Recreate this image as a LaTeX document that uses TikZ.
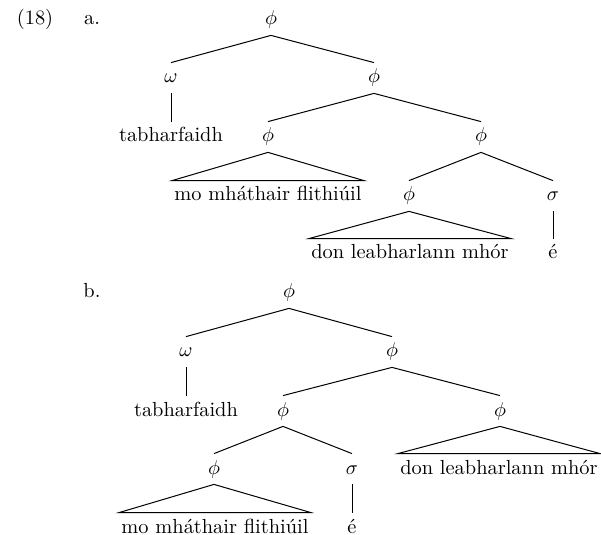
\documentclass[tikz,border=0pt]{standalone}
\begin{document}
\begin{tikzpicture}[x=0.5pt,y=-0.5pt,
  lab/.style={inner sep=0pt, minimum height=15pt, text height=7pt, text depth=2pt, font=\fontsize{10.2}{12}\selectfont},
  cat/.style={lab},
  word/.style={lab, inner xsep=1pt},
  edge/.style={line width=0.5pt}]
\useasboundingbox (0,0) rectangle (601,535);
% labels
\node[lab] (n18) at (35,20) {(18)};
\node[lab] (la) at (92,20) {a.};
\node[lab] (lb) at (92,293) {b.};
% tree a
\node[cat] (rA) at (271,20) {$\phi$};
\node[cat] (wA) at (171,78) {$\omega$};
\node[word] (tA) at (171,137) {tabharfaidh};
\node[cat] (pA) at (374,78) {$\phi$};
\node[cat] (pA1) at (268,137) {$\phi$};
\node[word] (mA) at (268,196) {mo mháthair flithiúil};
\node[cat] (pA2) at (481,137) {$\phi$};
\node[cat] (pA3) at (409,196) {$\phi$};
\node[word] (dA) at (410,254) {don leabharlann mhór};
\node[cat] (sA) at (553,196) {$\sigma$};
\node[word] (eA) at (553,254) {é};
\draw[edge] (wA.north) -- (rA.south) -- (pA.north);
\draw[edge] (wA.south) -- (tA.north);
\draw[edge] (pA1.north) -- (pA.south) -- (pA2.north);
\draw[edge] (pA1.south) -- (mA.north west) -- (mA.north east) -- cycle;
\draw[edge] (pA3.north) -- (pA2.south) -- (sA.north);
\draw[edge] (pA3.south) -- (dA.north west) -- (dA.north east) -- cycle;
\draw[edge] (sA.south) -- (eA.north);
% tree b
\node[cat] (rB) at (289,293) {$\phi$};
\node[cat] (wB) at (186,352) {$\omega$};
\node[word] (tB) at (186,411) {tabharfaidh};
\node[cat] (pB) at (392,352) {$\phi$};
\node[cat] (pB1) at (283,411) {$\phi$};
\node[cat] (pB2) at (500,411) {$\phi$};
\node[word] (dB) at (499,469) {don leabharlann mhór};
\node[cat] (pB3) at (214,469) {$\phi$};
\node[word] (mB) at (215,528) {mo mháthair flithiúil};
\node[cat] (sB) at (352,469) {$\sigma$};
\node[word] (eB) at (352,528) {é};
\draw[edge] (wB.north) -- (rB.south) -- (pB.north);
\draw[edge] (wB.south) -- (tB.north);
\draw[edge] (pB1.north) -- (pB.south) -- (pB2.north);
\draw[edge] (pB2.south) -- (dB.north west) -- (dB.north east) -- cycle;
\draw[edge] (pB3.north) -- (pB1.south) -- (sB.north);
\draw[edge] (pB3.south) -- (mB.north west) -- (mB.north east) -- cycle;
\draw[edge] (sB.south) -- (eB.north);
\end{tikzpicture}
\end{document}
